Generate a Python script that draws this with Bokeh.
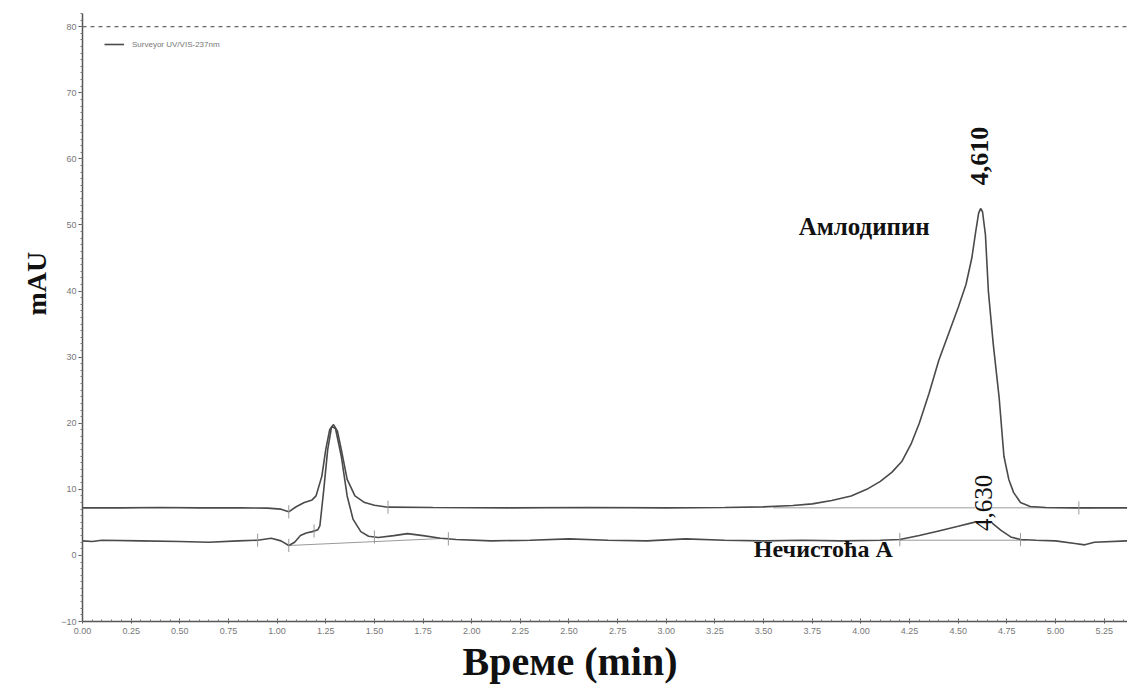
import numpy as np
from bokeh.plotting import figure
from bokeh.models import (Range1d, Span, Label, Legend, LegendItem, Title,
                          SingleIntervalTicker, NumeralTickFormatter)
from bokeh.embed import file_html
from bokeh.resources import INLINE

# ---- data ----
t_upper = [0.00, 0.20, 0.40, 0.60, 0.80, 0.95, 1.02, 1.06, 1.10, 1.14, 1.18, 1.20,
           1.23, 1.25, 1.27, 1.29, 1.31, 1.33, 1.36, 1.40, 1.45, 1.50, 1.57, 1.80,
           2.20, 2.60, 3.00, 3.30, 3.50, 3.65, 3.75, 3.85, 3.95, 4.03, 4.10, 4.16,
           4.21, 4.26, 4.30, 4.35, 4.40, 4.45, 4.50, 4.54, 4.57, 4.59, 4.605, 4.615,
           4.625, 4.64, 4.655, 4.68, 4.71, 4.735, 4.76, 4.785, 4.82, 4.87, 4.95, 5.10,
           5.37]
y_upper = [7.2, 7.2, 7.25, 7.2, 7.2, 7.15, 7.0, 6.6, 7.4, 8.0, 8.4, 9.0,
           12.0, 16.0, 19.0, 19.8, 18.8, 16.0, 11.5, 9.0, 8.0, 7.6, 7.3, 7.25,
           7.2, 7.25, 7.2, 7.25, 7.35, 7.55, 7.8, 8.3, 9.0, 10.0, 11.2, 12.6,
           14.2, 17.0, 20.0, 24.5, 29.5, 33.5, 37.5, 41.0, 45.0, 49.0, 51.8, 52.5,
           52.0, 48.5, 40.0, 32.0, 24.0, 15.0, 11.5, 9.5, 8.0, 7.4, 7.25, 7.2,
           7.2]

t_lower = [0.00, 0.05, 0.10, 0.30, 0.50, 0.65, 0.80, 0.90, 0.97, 1.02, 1.06, 1.09,
           1.12, 1.15, 1.18, 1.21, 1.22, 1.24, 1.26, 1.28, 1.30, 1.33, 1.36, 1.39,
           1.43, 1.47, 1.52, 1.60, 1.67, 1.75, 1.84, 1.92, 2.10, 2.30, 2.50, 2.70,
           2.90, 3.10, 3.30, 3.50, 3.70, 3.90, 4.10, 4.20, 4.30, 4.40, 4.50, 4.58,
           4.63, 4.67, 4.72, 4.77, 4.82, 4.90, 5.00, 5.10, 5.15, 5.20, 5.37]
y_lower = [2.2, 2.1, 2.3, 2.2, 2.1, 2.0, 2.2, 2.3, 2.6, 2.2, 1.5, 2.0,
           3.0, 3.4, 3.6, 3.9, 4.5, 10.0, 16.0, 19.5, 19.2, 15.0, 9.0, 5.5,
           3.6, 2.9, 2.7, 3.0, 3.3, 3.0, 2.6, 2.4, 2.2, 2.3, 2.5, 2.3,
           2.2, 2.5, 2.3, 2.2, 2.3, 2.2, 2.3, 2.4, 3.0, 3.7, 4.4, 5.0,
           5.4, 5.0, 3.8, 2.8, 2.4, 2.3, 2.2, 1.8, 1.6, 2.0, 2.2]

# integration baselines (start/end time, start/end value)
base_t0 = [1.06, 4.20, 3.55]
base_t1 = [1.88, 4.85, 5.20]
base_y0 = [1.5, 2.3, 7.2]
base_y1 = [2.6, 2.3, 7.2]

# peak start/end event marks
upper_marks = [1.06, 1.57, 5.12]
lower_marks = [0.90, 1.06, 1.19, 1.50, 1.88, 4.20, 4.82]

peak_times = [4.61, 4.63]
peak_labels = ["4,610", "4,630"]
compound_names = ["Амлодипин", "Нечистоћа А"]
x_title = "Време (min)"
y_title = "mAU"
legend_label = "Surveyor UV/VIS-237nm"

TRACE = "#4a4a4a"
LIGHT = "#9a9a9a"

p = figure(width=1127, height=687, output_backend="svg", toolbar_location=None,
           x_range=Range1d(0, 5.37), y_range=Range1d(-10, 82),
           min_border_left=82, min_border_right=0, min_border_top=13,
           min_border_bottom=66)
p.outline_line_color = None
p.xgrid.visible = False
p.ygrid.visible = False
p.background_fill_color = "white"

# axes
p.xaxis.ticker = SingleIntervalTicker(interval=0.25, num_minor_ticks=5)
p.xaxis.formatter = NumeralTickFormatter(format="0.00")
p.yaxis.ticker = SingleIntervalTicker(interval=10, num_minor_ticks=10)
for ax in (p.xaxis[0], p.yaxis[0]):
    ax.axis_line_color = "#555555"
    ax.axis_line_width = 1.5
    ax.major_tick_line_color = "#555555"
    ax.minor_tick_line_color = "#777777"
    ax.major_label_text_font = "Liberation Sans"
    ax.major_label_text_font_size = "9px"
    ax.major_label_text_color = "#777777"
p.xaxis.major_tick_in = 3
p.xaxis.major_tick_out = 2
p.xaxis.minor_tick_in = 2
p.xaxis.minor_tick_out = 0
p.xaxis.major_label_standoff = 4
p.yaxis.major_tick_in = 0
p.yaxis.major_tick_out = 4
p.yaxis.minor_tick_in = 0
p.yaxis.minor_tick_out = 2
p.yaxis.major_label_standoff = 2

p.add_layout(Title(text=y_title, align="left", offset=306, standoff=14,
                   text_font="Liberation Serif", text_font_style="bold",
                   text_font_size="28px", text_color="#111111"), "left")
p.add_layout(Title(text=x_title, align="left", offset=380, standoff=0,
                   text_font="Liberation Serif", text_font_style="bold",
                   text_font_size="40px", text_color="#111111"), "below")

# dashed line at top
p.add_layout(Span(location=80, dimension="width", line_color="#666666",
                  line_dash="4 4", line_width=1.2))

# integration baselines
p.segment(x0=base_t0, y0=base_y0, x1=base_t1, y1=base_y1,
          line_color=LIGHT, line_width=1)

# traces
r_up = p.line(t_upper, y_upper, line_color=TRACE, line_width=1.6)
r_lo = p.line(t_lower, y_lower, line_color=TRACE, line_width=1.6)

# event marks
um_y = np.interp(upper_marks, t_upper, y_upper)
lm_y = np.interp(lower_marks, t_lower, y_lower)
p.segment(x0=upper_marks, y0=um_y - 1.0, x1=upper_marks, y1=um_y + 1.0,
          line_color=LIGHT, line_width=1)
p.segment(x0=lower_marks, y0=lm_y - 1.0, x1=lower_marks, y1=lm_y + 1.0,
          line_color=LIGHT, line_width=1)

# annotations
p.add_layout(Label(x=peak_times[0], y=56, text=peak_labels[0], angle=np.pi / 2,
                   text_align="left", text_baseline="middle",
                   text_font="Liberation Serif", text_font_style="bold",
                   text_font_size="26px", text_color="#111111"))
p.add_layout(Label(x=peak_times[1], y=3.7, text=peak_labels[1], angle=np.pi / 2,
                   text_align="left", text_baseline="middle",
                   text_font="Liberation Serif", text_font_size="25px",
                   text_color="#111111", background_fill_color="white"))
p.add_layout(Label(x=3.68, y=49.8, text=compound_names[0],
                   text_align="left", text_baseline="middle",
                   text_font="Liberation Serif", text_font_style="bold",
                   text_font_size="25px", text_color="#111111"))
p.add_layout(Label(x=3.45, y=0.9, text=compound_names[1],
                   text_align="left", text_baseline="middle",
                   text_font="Liberation Serif", text_font_style="bold",
                   text_font_size="24px", text_color="#111111"))

legend = Legend(items=[LegendItem(label=legend_label, renderers=[r_up])],
                location=(22, 570), border_line_color=None,
                background_fill_alpha=0, label_text_font="Liberation Sans",
                label_text_font_size="8px", label_text_color="#777777",
                glyph_width=20, glyph_height=14, padding=0, margin=0,
                label_standoff=8, label_height=14)
p.add_layout(legend)

open("out.html", "w").write(file_html(p, INLINE))
